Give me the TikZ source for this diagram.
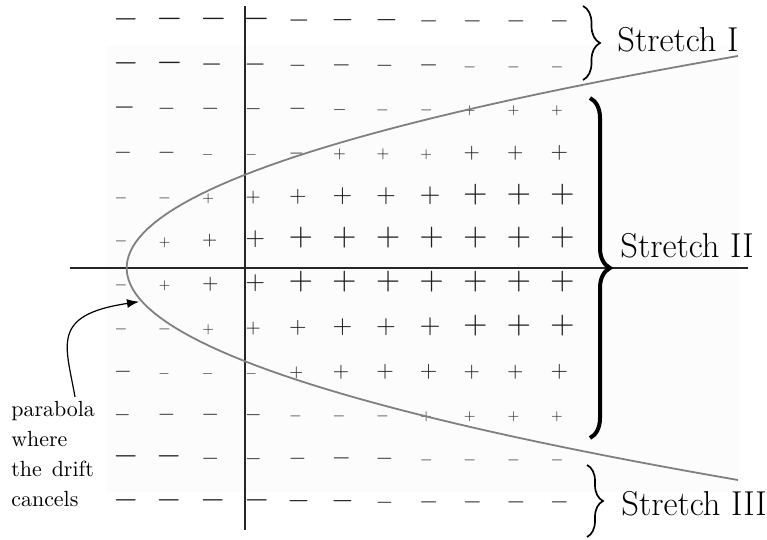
\documentclass[tikz,border=0pt]{standalone}
\usepackage{graphicx}
\usetikzlibrary{arrows.meta,decorations.pathreplacing}
\tikzset{
  sgn/.style={anchor=base west, inner sep=0pt, outer sep=0pt, text=black!88},
  axisline/.style={line width=0.6pt, black!85},
  parab/.style={line width=0.9pt, black!50},
  bracedeco/.style={decorate, decoration={brace, amplitude=#1}},
  stretchlbl/.style={anchor=base west, inner sep=0pt, font=\fontsize{17.28}{20}\selectfont},
  arr/.style={-{Latex[length=6pt,width=4.5pt]}, line width=0.6pt},
}
\newcommand\sgncell[4]{%
  \pgfmathsetmacro\yb{27.5+43.7*(#1-1)}%
  \if#3p%
    \pgfmathsetmacro\kk{#4*0.07508}%
    \pgfmathsetmacro\xl{116+43.6*(#2-1)-1.12*\kk}%
    \node[sgn] (s-#1-#2) at (\xl,\yb) {\scalebox{\kk}{$+$}};%
  \else
    \pgfmathsetmacro\kk{#4*0.08183}%
    \pgfmathsetmacro\xl{116+43.6*(#2-1)-1.66*\kk}%
    \node[sgn] (s-#1-#2) at (\xl,\yb) {\scalebox{\kk}{$-$}};%
  \fi
}
\begin{document}
\begin{tikzpicture}[x=0.5pt,y=-0.5pt]
\path[use as bounding box] (0,0) rectangle (767,540);
\fill[black!1.2] (106,46) rectangle (738,492);
% sign field
\foreach [count=\c] \s/\w in {m/20,m/21,m/21,m/21,m/17,m/18,m/18,m/15,m/15,m/15,m/15} {\sgncell{1}{\c}{\s}{\w}}
\foreach [count=\c] \s/\w in {m/20,m/21,m/17,m/17,m/14,m/15,m/14,m/15,m/10,m/10,m/10} {\sgncell{2}{\c}{\s}{\w}}
\foreach [count=\c] \s/\w in {m/17,m/14,m/14,m/13,m/14,m/11,m/10,m/10,p/10,p/10,p/10} {\sgncell{3}{\c}{\s}{\w}}
\foreach [count=\c] \s/\w in {m/14,m/14,m/9,m/9,m/12,p/11,p/11,p/10,p/14,p/14,p/15} {\sgncell{4}{\c}{\s}{\w}}
\foreach [count=\c] \s/\w in {m/10,m/10,p/10,p/13,p/15,p/17,p/17,p/18,p/21,p/21,p/21} {\sgncell{5}{\c}{\s}{\w}}
\foreach [count=\c] \s/\w in {m/10,p/10,p/13,p/17,p/21,p/21,p/21,p/21,p/21,p/21,p/21} {\sgncell{6}{\c}{\s}{\w}}
\foreach [count=\c] \s/\w in {m/10,p/10,p/14,p/17,p/21,p/21,p/21,p/21,p/21,p/21,p/21} {\sgncell{7}{\c}{\s}{\w}}
\foreach [count=\c] \s/\w in {m/10,m/10,p/10,p/13,p/15,p/17,p/17,p/18,p/21,p/21,p/21} {\sgncell{8}{\c}{\s}{\w}}
\foreach [count=\c] \s/\w in {m/14,m/9,m/9,m/9,p/12,p/14,p/15,p/15,p/14,p/14,p/15} {\sgncell{9}{\c}{\s}{\w}}
\foreach [count=\c] \s/\w in {m/13,m/14,m/14,m/13,m/10,m/10,m/10,p/10,p/10,p/10,p/10} {\sgncell{10}{\c}{\s}{\w}}
\foreach [count=\c] \s/\w in {m/20,m/20,m/14,m/13,m/14,m/15,m/14,m/10,m/10,m/10,m/10} {\sgncell{11}{\c}{\s}{\w}}
\foreach [count=\c] \s/\w in {m/20,m/20,m/20,m/20,m/18,m/18,m/14,m/15,m/15,m/15,m/15} {\sgncell{12}{\c}{\s}{\w}}
% axes
\coordinate (xl) at (70,268);
\coordinate (xr) at (748,268);
\coordinate (yt) at (245,6);
\coordinate (yb) at (245,530);
\draw[axisline] (xl) -- (xr);
\draw[axisline] (yt) -- (yb);
% parabola
\draw[parab] plot[domain=-212:212, samples=90, variable=\t] ({126.7+136*(\t/100)*(\t/100)},{268+\t});
% braces
\coordinate (b1t) at (583,6);
\coordinate (b1b) at (583,80);
\coordinate (b2t) at (590,98);
\coordinate (b2b) at (590,438);
\coordinate (b3t) at (587,465);
\coordinate (b3b) at (587,537);
\draw[bracedeco=8.5pt, line width=0.85pt] (b1t) -- (b1b);
\draw[bracedeco=10pt, line width=2pt] (b2t) -- (b2b);
\draw[bracedeco=8pt, line width=0.85pt] (b3t) -- (b3b);
% labels
\node[stretchlbl] (st1) at (617,52) {Stretch I};
\node[stretchlbl] (st2) at (620,257) {Stretch II};
\node[stretchlbl] (st3) at (621,515) {Stretch III};
\node[anchor=base west, align=left, inner sep=0pt, font=\fontsize{10.95}{14.9}\selectfont] (note) at (11,506) {parabola\\where\\the\hspace{5pt}drift\\cancels};
% arrow
\coordinate (arrS) at (75,397);
\coordinate (arrE) at (139,301.7);
\draw[arr] (arrS) .. controls (66,345) and (50,315) .. (arrE);
\end{tikzpicture}
\end{document}
